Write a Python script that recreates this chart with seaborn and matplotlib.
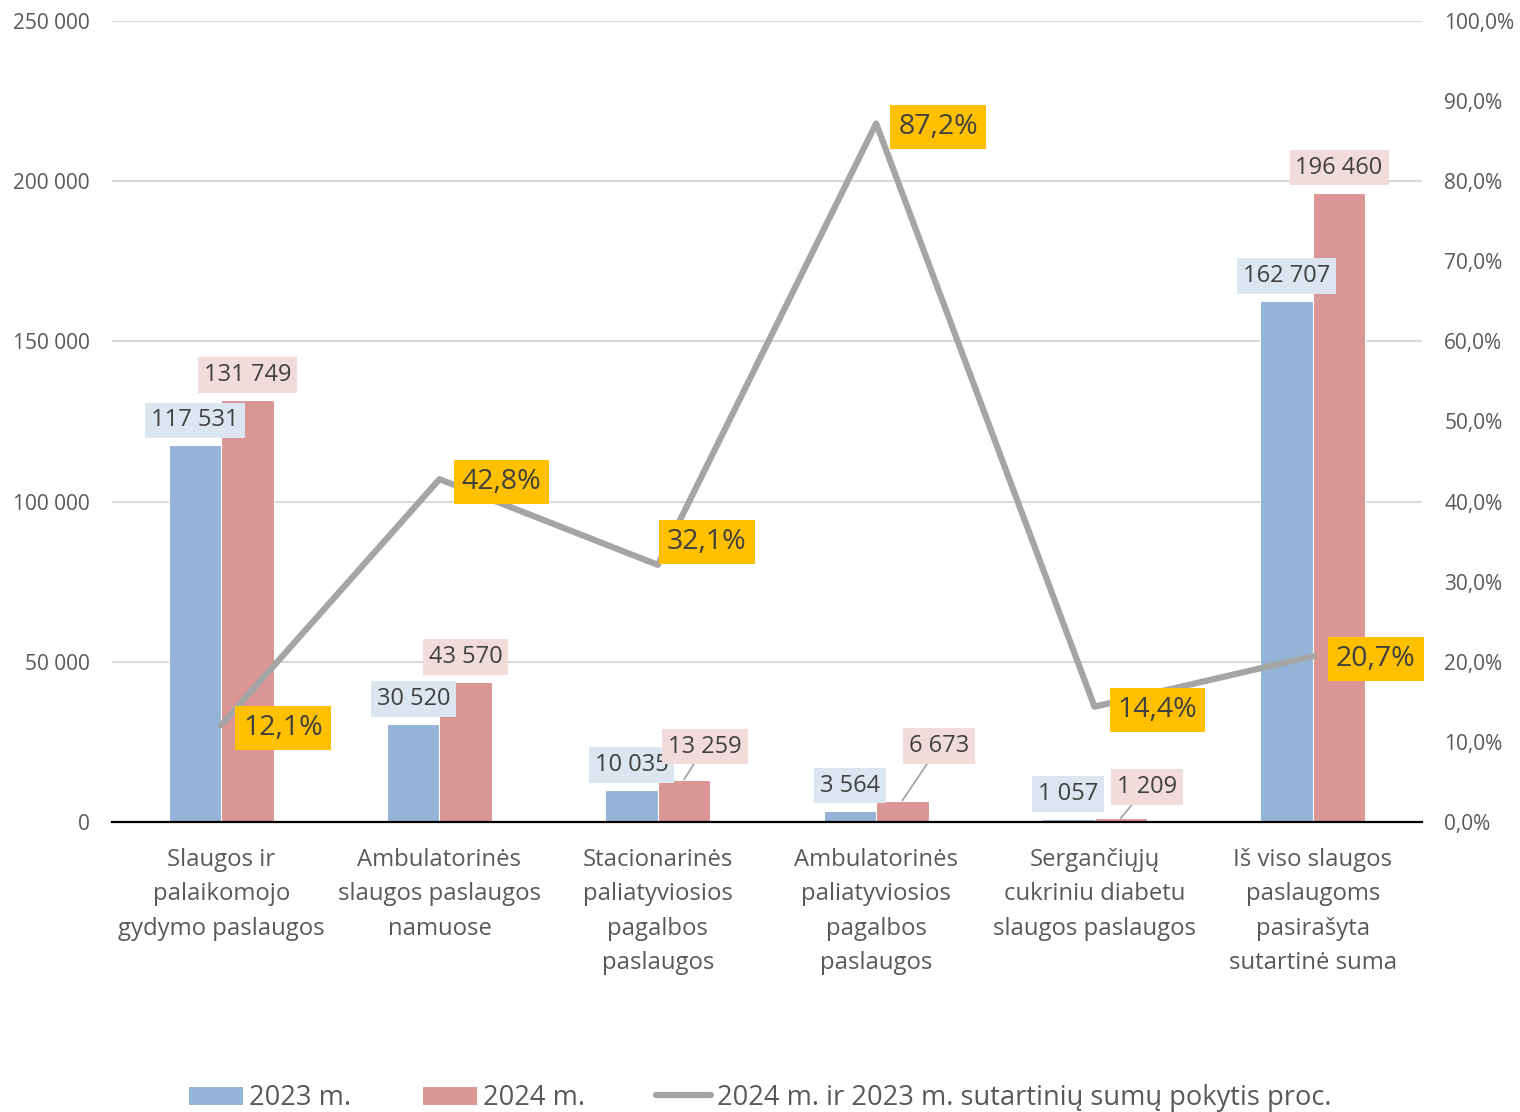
import matplotlib
matplotlib.use("Agg")
import matplotlib.pyplot as plt
import matplotlib.ticker as mticker
import numpy as np
import pandas as pd
import seaborn as sns

kategorijos = [
    "Slaugos ir\npalaikomojo\ngydymo paslaugos",
    "Ambulatorinės\nslaugos paslaugos\nnamuose",
    "Stacionarinės\npaliatyviosios\npagalbos\npaslaugos",
    "Ambulatorinės\npaliatyviosios\npagalbos\npaslaugos",
    "Sergančiųjų\ncukriniu diabetu\nslaugos paslaugos",
    "Iš viso slaugos\npaslaugoms\npasirašyta\nsutartinė suma",
]
metai = ["2023 m.", "2024 m."]
suma_2023 = [117531, 30520, 10035, 3564, 1057, 162707]
suma_2024 = [131749, 43570, 13259, 6673, 1209, 196460]
pokytis = [12.1, 42.8, 32.1, 87.2, 14.4, 20.7]
linijos_pav = "2024 m. ir 2023 m. sutartinių sumų pokytis proc."

df = pd.DataFrame({
    "Kategorija": kategorijos * 2,
    "Metai": [metai[0]] * 6 + [metai[1]] * 6,
    "Suma": suma_2023 + suma_2024,
})

sns.set_theme(style="white")
plt.rcParams["font.family"] = ["Open Sans", "DejaVu Sans"]

MELYNA = "#95b3d7"
RAUDONA = "#d99694"
PILKA = "#a5a5a5"
TEKSTAS = "#404040"
ASIS = "#595959"

fig = plt.figure(figsize=(15.2, 11.12), dpi=100)
ax = fig.add_axes([112 / 1520, 1 - 822 / 1112, 1310 / 1520, 801 / 1112])

sns.barplot(data=df, x="Kategorija", y="Suma", hue="Metai",
            palette=[MELYNA, RAUDONA], saturation=1, width=0.48, gap=0,
            edgecolor="white", linewidth=0.8, ax=ax)
ax.set_xlim(-0.5, 5.5)
ax.set_ylim(0, 250000)
ax.set_yticks(np.arange(0, 250001, 50000))
ax.yaxis.set_major_formatter(mticker.FuncFormatter(lambda v, p: f"{int(v):,}".replace(",", " ")))
ax.set_xlabel("")
ax.set_ylabel("")
ax.set_axisbelow(True)
ax.grid(axis="y", color="#d9d9d9", lw=1.5)
for s in ["top", "left", "right"]:
    ax.spines[s].set_visible(False)
ax.spines["bottom"].set_color("black")
ax.spines["bottom"].set_linewidth(1.6)
ax.tick_params(axis="y", length=0, pad=16, labelsize=15, labelcolor=ASIS)
ax.tick_params(axis="x", length=0, pad=19, labelsize=17.2, labelcolor=ASIS)
for t in ax.get_xticklabels():
    t.set_linespacing(1.56)
    t.set_va("top")

ax2 = ax.twinx()
sns.lineplot(x=np.arange(len(pokytis)), y=pokytis, color=PILKA, lw=4.5,
             ax=ax2, label=linijos_pav)
ax2.set_ylim(0, 100)
ax2.set_yticks(np.arange(0, 101, 10))
ax2.yaxis.set_major_formatter(mticker.FuncFormatter(lambda v, p: f"{v:.1f}%".replace(".", ",")))
ax2.tick_params(axis="y", length=0, pad=16, labelsize=15, labelcolor=ASIS)
for s in ax2.spines.values():
    s.set_visible(False)
ax2.set_ylabel("")
ax2.get_legend().remove()

# poslinkiai pikseliais (dx, dy), pervedami i taskus
k = 72 / 100
poslinkiai = {
    0: [(0, 25)] * 6,
    1: [(0, 25), (0, 25), (21, 33), (37, 55), (26, 31), (0, 25)],
}
spalvos_fono = ["#dce6f1", "#f2dcdb"]
for hi, cont in enumerate(ax.containers):
    for i, bar in enumerate(cont):
        x = bar.get_x() + bar.get_width() / 2
        h = bar.get_height()
        dx, dy = poslinkiai[hi][i]
        txt = f"{int(round(h)):,}".replace(",", " ")
        kw = {}
        if dx != 0:
            kw["arrowprops"] = dict(arrowstyle="-", color="#a6a6a6", lw=1.3,
                                    shrinkA=0, shrinkB=0)
        ax2.annotate(txt, xy=(x, h), xycoords=ax.transData,
                     xytext=(dx * k, dy * k), textcoords="offset points",
                     ha="center", va="center", fontsize=17, color=TEKSTAS,
                     bbox=dict(boxstyle="square,pad=0.25", fc=spalvos_fono[hi], ec="none"),
                     zorder=5, **kw)

proc_posl = [(62, -3), (62, -3), (49, 23), (62, -3), (63, -3), (63, -3)]
for i, v in enumerate(pokytis):
    dx, dy = proc_posl[i]
    ax2.annotate(f"{v:.1f}%".replace(".", ","), xy=(i, v),
                 xytext=(dx * k, dy * k), textcoords="offset points",
                 ha="center", va="center", fontsize=20.5, color=TEKSTAS,
                 bbox=dict(boxstyle="square,pad=0.28", fc="#ffc000", ec="none"),
                 zorder=6)

h1, l1 = ax.get_legend_handles_labels()
h2, l2 = ax2.get_legend_handles_labels()
if ax.get_legend() is not None:
    ax.get_legend().remove()
fig.legend(h1 + h2, l1 + l2, loc="center", bbox_to_anchor=(0.5, 1 - 1098 / 1112),
           ncol=3, frameon=False, fontsize=19.6, labelcolor=ASIS,
           handlelength=2.0, handletextpad=0.25, columnspacing=2.6)

fig.savefig("out.png", dpi=100)
